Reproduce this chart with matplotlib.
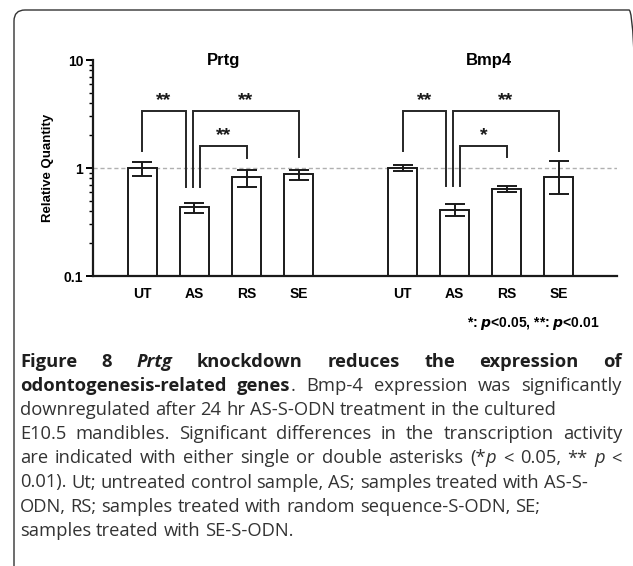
import matplotlib
matplotlib.use("Agg")
import matplotlib.pyplot as plt
import matplotlib.transforms as mtransforms
from matplotlib.patches import FancyBboxPatch
import numpy as np

# ---------------- data ----------------
categories = ["UT", "AS", "RS", "SE"]
genes = ["Prtg", "Bmp4"]

prtg_mean = [1.00, 0.44, 0.83, 0.875]
prtg_upper = [1.14, 0.47, 0.96, 0.96]
prtg_lower = [0.84, 0.385, 0.66, 0.77]

bmp4_mean = [1.00, 0.41, 0.64, 0.83]
bmp4_upper = [1.06, 0.46, 0.68, 1.17]
bmp4_lower = [0.93, 0.36, 0.60, 0.58]

# brackets: (i, j, top, left_bottom, right_bottom, label)
prtg_brackets = [(0, 1, 3.37, 1.44, 0.67, "**"),
                 (1, 3, 3.37, 0.67, 1.26, "**"),
                 (1, 2, 1.60, 0.67, 1.23, "**")]
bmp4_brackets = [(0, 1, 3.37, 1.44, 0.68, "**"),
                 (1, 3, 3.37, 0.68, 1.44, "**"),
                 (1, 2, 1.60, 0.68, 1.26, "*")]

W, H = 633, 566
fig = plt.figure(figsize=(W / 100, H / 100), dpi=100)
fig.patch.set_facecolor("white")

# rounded border
border = FancyBboxPatch((14, -40), 640 - 14, (H - 10) + 40,
                        boxstyle="round,pad=0,rounding_size=11",
                        transform=mtransforms.IdentityTransform(),
                        facecolor="none", edgecolor="#333333", linewidth=1.0)
fig.patches.append(border)

left, right, bottom, top = 93, 617, 276, 60
ax = fig.add_axes([left / W, 1 - bottom / H, (right - left) / W, (bottom - top) / H])

cfont = "Liberation Sans"
group_offsets = [0, 5]
means = [prtg_mean, bmp4_mean]
uppers = [prtg_upper, bmp4_upper]
lowers = [prtg_lower, bmp4_lower]
brackets = [prtg_brackets, bmp4_brackets]
title_x = [1.55, 6.66]
bar_w = 0.56
lc = "#1a1a1a"

ax.axhline(1.0, color="#b0b0b0", lw=1.0, ls=(0, (3, 2)), zorder=0)

xt, xl = [], []
for g in range(2):
    xs = np.arange(len(categories)) + group_offsets[g]
    m = np.array(means[g])
    up = np.array(uppers[g]) - m
    lo = m - np.array(lowers[g])
    ax.bar(xs, m, width=bar_w, color="white", edgecolor=lc, linewidth=1.4, zorder=2)
    ax.errorbar(xs, m, yerr=[lo, up], fmt="none", ecolor=lc, elinewidth=1.4,
                capsize=7.5, capthick=1.4, zorder=3)
    xt.extend(xs)
    xl.extend(categories)
    leg_off = {0: -0.17, 1: -0.03, 2: 0.11}
    for k, (i, j, t, lb, rb, lab) in enumerate(brackets[g]):
        xi = xs[i] + (leg_off[k] if i == 1 else 0)
        xj = xs[j] + (leg_off[k] if j == 1 else 0)
        ax.plot([xi, xi, xj, xj], [lb, t, t, rb], color="#262626", lw=1.4,
                solid_joinstyle="miter", zorder=4, clip_on=False)
        ax.text((xi + xj) / 2, t * 1.05, lab, ha="center", va="bottom",
                fontsize=14, fontweight="bold", family=cfont, color="#1a1a1a")
    ax.text(title_x[g], 10, genes[g], ha="center", va="center", fontsize=12,
            fontweight="bold", family=cfont)

ax.set_yscale("log")
ax.set_ylim(0.1, 10)
ax.set_xlim(-0.95, 9.12)
ax.set_xticks(xt)
ax.set_xticklabels(xl, fontsize=10, fontweight="bold", family=cfont)
ax.tick_params(axis="x", length=0, pad=8)
ax.set_yticks([0.1, 1, 10])
ax.set_yticklabels(["0.1", "1", "10"], fontsize=10, fontweight="bold", family=cfont)
ax.tick_params(axis="y", which="major", length=5, width=1.4, pad=2)
ax.tick_params(axis="y", which="minor", length=3, width=1.0, labelleft=False)
ax.set_ylabel("Relative Quantity", fontsize=9.5, fontweight="bold", family=cfont, labelpad=7)
for s in ["top", "right"]:
    ax.spines[s].set_visible(False)
for s in ["left", "bottom"]:
    ax.spines[s].set_linewidth(1.6)
    ax.spines[s].set_color(lc)
ax.set_facecolor("none")

# footnote
fig.text(600 / W, 1 - 323 / H,
         r"*: $\mathbfit{p}$<0.05, **: $\mathbfit{p}$<0.01", ha="right", va="center",
         fontsize=10, fontweight="bold", family=cfont)

# caption
capfont = "Open Sans"
cap_fs = 13.2
lines = [
    ([("Figure 8 ", "bold", "normal"), ("Prtg", "bold", "italic"),
      (" knockdown reduces the expression of", "bold", "normal")], True),
    ([("odontogenesis-related genes", "bold", "normal"),
      (". Bmp-4 expression was significantly", "normal", "normal")], True),
    ([("downregulated after 24 hr AS-S-ODN treatment in the cultured", "normal", "normal")], False),
    ([("E10.5 mandibles. Significant differences in the transcription activity", "normal", "normal")], True),
    ([("are indicated with either single or double asterisks (*", "normal", "normal"),
      ("p", "normal", "italic"), (" < 0.05, ** ", "normal", "normal"),
      ("p", "normal", "italic"), (" <", "normal", "normal")], True),
    ([("0.01). Ut; untreated control sample, AS; samples treated with AS-S-", "normal", "normal")], False),
    ([("ODN, RS; samples treated with random sequence-S-ODN, SE;", "normal", "normal")], False),
    ([("samples treated with SE-S-ODN.", "normal", "normal")], False),
]
x0, x1 = 20, 622
y0, dy = 362, 24.1
renderer = fig.canvas.get_renderer()


def word_tokens(segs):
    toks = []
    space_pending = False
    for text, wt, st in segs:
        parts = text.split(" ")
        for pi, p in enumerate(parts):
            if pi > 0:
                space_pending = True
            if p == "":
                continue
            toks.append((p, wt, st, space_pending))
            space_pending = False
    return toks


def measure(s, wt, st):
    t = fig.text(0, 0, s, fontsize=cap_fs, family=capfont, fontweight=wt, style=st)
    w = t.get_window_extent(renderer).width
    t.remove()
    return w


space_w = measure("a a", "normal", "normal") - 2 * measure("a", "normal", "normal")
for li, (segs, just) in enumerate(lines):
    toks = word_tokens(segs)
    widths = [measure(t[0], t[1], t[2]) for t in toks]
    nsp = sum(1 for t in toks if t[3])
    natural = sum(widths) + nsp * space_w
    sp = space_w
    if just and nsp > 0:
        sp = max(space_w * 0.5, space_w + (x1 - x0 - natural) / nsp)
    x = x0
    y = y0 + li * dy
    for (s, wt, st, sb), w in zip(toks, widths):
        if sb:
            x += sp
        fig.text(x / W, 1 - y / H, s, fontsize=cap_fs, family=capfont, fontweight=wt,
                 style=st, va="center", ha="left", color="#1e1e1e" if wt == "bold" else "#333333")
        x += w

fig.savefig("out.png", dpi=100)
